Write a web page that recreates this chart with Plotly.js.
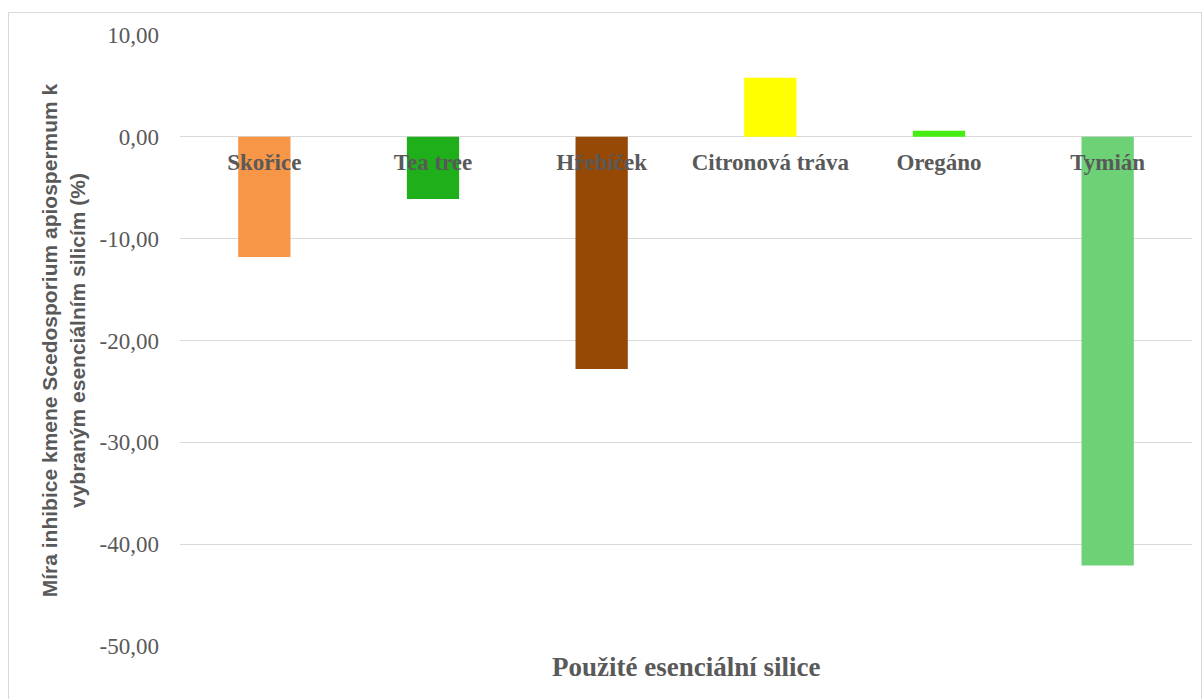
<!DOCTYPE html>
<html>
<head>
<meta charset="utf-8">
<script src="https://cdn.plot.ly/plotly-3.0.1.min.js"></script>
<style>
html,body{margin:0;padding:0;background:#fff;}
#chart{width:1203px;height:699px;}
#frame{position:absolute;left:8px;top:12px;width:1192px;height:700px;border:1px solid #d9d9d9;pointer-events:none;}
</style>
</head>
<body>
<div id="chart"></div>
<div id="frame"></div>
<script>
const categories = ["Skořice", "Tea tree", "Hřebíček", "Citronová tráva", "Oregáno", "Tymián"];
const values = [-11.8, -6.1, -22.8, 5.8, 0.6, -42.1];
const barColors = ["#F79646", "#1FAF1A", "#964805", "#FFFF00", "#44EE11", "#6DD276"];
const yTickVals = [10, 0, -10, -20, -30, -40, -50];
const yTickText = ["10,00", "0,00", "-10,00", "-20,00", "-30,00", "-40,00", "-50,00"];
const xTitle = "Použité esenciální silice";
const yTitle = "Míra inhibice kmene Scedosporium apiospermum k<br>vybraným esenciálním silicím (%)";

const yMin = -50, yMax = 10;
const zeroPos = (0 - yMin) / (yMax - yMin);

const trace = {
  type: "bar",
  x: categories,
  y: values,
  width: 0.31,
  marker: {color: barColors, line: {width: 0}},
  hoverinfo: "x+y"
};

const layout = {
  width: 1203,
  height: 699,
  margin: {l: 180, r: 11, t: 35, b: 53},
  paper_bgcolor: "#ffffff",
  plot_bgcolor: "#ffffff",
  showlegend: false,
  xaxis: {
    type: "category",
    anchor: "free",
    position: zeroPos,
    showgrid: false,
    showline: false,
    zeroline: false,
    ticks: "",
    ticklabelstandoff: 9,
    tickfont: {family: "Liberation Serif, Times New Roman, serif", size: 23, color: "#595959", weight: "bold"},
    range: [-0.5, 5.5]
  },
  yaxis: {
    range: [yMin, yMax],
    tickvals: yTickVals,
    ticktext: yTickText,
    showgrid: true,
    gridcolor: "#d9d9d9",
    gridwidth: 1,
    zeroline: true,
    zerolinecolor: "#d9d9d9",
    zerolinewidth: 1,
    showline: false,
    ticks: "",
    ticklabelstandoff: 20,
    tickfont: {family: "Liberation Serif, Times New Roman, serif", size: 23, color: "#595959"},
    title: {
      text: yTitle,
      font: {family: "Liberation Sans, Arial, sans-serif", size: 21, color: "#595959", weight: "bold"},
      standoff: 8
    }
  },
  annotations: [{
    text: xTitle,
    xref: "paper", yref: "paper",
    x: 0.5, y: 0, yshift: -4,
    xanchor: "center", yanchor: "top",
    showarrow: false,
    font: {family: "Liberation Serif, Times New Roman, serif", size: 27, color: "#595959", weight: "bold"}
  }]
};

Plotly.newPlot("chart", [trace], layout, {displayModeBar: false, staticPlot: true});
</script>
</body>
</html>
